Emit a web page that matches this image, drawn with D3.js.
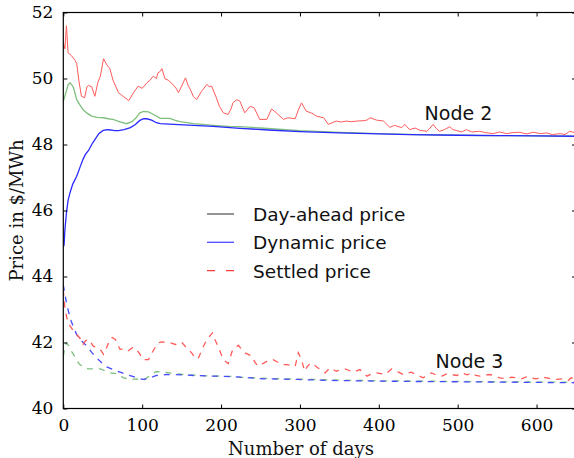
<!DOCTYPE html>
<html>
<head>
<meta charset="utf-8">
<script src="https://cdn.jsdelivr.net/npm/d3@7"></script>
<style>
  body { margin: 0; background: #fff; }
  .tick text { font-family: "DejaVu Serif", serif; }
</style>
</head>
<body>
<div id="chart"></div>
<script>
// values: [day, $/MWh]
const node2DayAhead = [[0,49.3],[3,49.55],[6,49.8],[8.5,49.87],[11,49.8],[13,49.72],[17,49.36],[21,49.2],[25,49.06],[30,48.95],[36,48.86],[43,48.82],[51,48.81],[57,48.78],[63,48.76],[70,48.7],[80,48.63],[87,48.69],[92,48.8],[97,48.96],[102,49.0],[108,48.99],[115,48.9],[123,48.79],[130,48.79],[135,48.79],[142,48.73],[148,48.69],[157,48.66],[165,48.63],[180,48.6],[190,48.58],[210,48.55],[224,48.54],[250,48.5],[300,48.42],[350,48.37],[400,48.33],[450,48.3],[500,48.28],[550,48.27],[600,48.26],[650,48.25]];
const node2Dynamic = [[0,44.9],[1,44.95],[2,45.4],[4,45.93],[6,46.3],[8.5,46.54],[12,46.8],[17,47.04],[21,47.3],[25,47.55],[28,47.7],[32,47.82],[36,48.0],[40,48.15],[45,48.33],[50,48.42],[55,48.45],[60,48.44],[65,48.42],[70,48.42],[77,48.45],[85,48.51],[91,48.6],[97,48.73],[102,48.78],[106,48.78],[112,48.74],[118,48.66],[123,48.63],[140,48.61],[165,48.58],[190,48.55],[224,48.49],[260,48.44],[300,48.39],[350,48.35],[400,48.32],[439,48.3],[500,48.28],[550,48.27],[600,48.26],[650,48.25]];
const node2Settled = [[0,51.1],[2,50.9],[4,51.6],[6,50.78],[10,50.7],[15,50.55],[17,50.45],[20,49.9],[23,49.46],[27,49.42],[30,49.75],[32,49.79],[36,49.75],[40,49.46],[44,49.9],[47,50.07],[51,50.6],[55,50.42],[59,50.3],[63,49.95],[70,49.57],[78,49.42],[83,49.33],[89,49.57],[95,49.77],[100,49.7],[106,49.87],[110,49.95],[114,50.07],[118,50.0],[120,50.17],[123,50.22],[125,50.3],[129,49.99],[133,49.95],[139,49.82],[143,49.7],[146,49.57],[150,49.77],[155,50.02],[158,49.8],[161,49.67],[165,49.45],[169,49.36],[175,49.6],[182,49.82],[185,49.75],[188,49.77],[194,49.42],[198,49.15],[203,48.96],[209,48.91],[213,49.1],[215,49.26],[220,49.36],[224,49.31],[230,48.96],[237,49.16],[242,49.11],[249,48.76],[258,48.76],[264,49.08],[270,48.96],[279,48.76],[285,48.81],[294,48.78],[298,49.05],[302,49.26],[308,49.01],[315,48.95],[321,48.86],[330,48.81],[336,48.61],[346,48.71],[352,48.68],[359,48.71],[365,48.69],[372,48.71],[380,48.72],[385,48.74],[389,48.81],[397,48.74],[406,48.71],[414,48.52],[420,48.58],[429,48.51],[433,48.61],[439,48.45],[446,48.5],[452,48.43],[461,48.4],[465,48.5],[469,48.61],[473,48.48],[477,48.4],[483,48.45],[490,48.54],[494,48.45],[499,48.42],[505,48.38],[511,48.45],[518,48.38],[528,48.4],[535,48.36],[545,48.33],[553,48.38],[562,48.33],[570,48.36],[579,48.37],[587,48.32],[596,48.37],[605,48.33],[613,48.35],[620,48.3],[630,48.33],[636,48.3],[642,48.4],[650,48.35]];

const node3DayAhead = [[0,41.58],[2,41.85],[4,41.99],[7,41.9],[10,41.74],[13,41.64],[17,41.45],[21,41.33],[27,41.22],[34,41.2],[41,41.2],[47,41.2],[53,41.14],[59,41.08],[70,41.05],[76,40.93],[86,40.88],[93,40.9],[97,40.86],[102,40.86],[106,40.93],[112,41.03],[118,41.12],[126,41.1],[135,41.08],[152,41.03],[173,41.0],[194,40.98],[215,40.97],[224,40.95],[260,40.91],[300,40.89],[350,40.86],[400,40.84],[450,40.83],[500,40.82],[550,40.81],[600,40.8],[650,40.8]];
const node3Dynamic = [[0,43.75],[1,43.61],[4,43.2],[7,42.9],[10,42.65],[13,42.45],[17,42.24],[23,42.05],[30,41.89],[36,41.7],[42,41.54],[48,41.4],[55,41.26],[63,41.18],[72,41.1],[80,41.03],[87,40.98],[95,40.92],[101,40.88],[106,40.9],[110,40.93],[118,41.0],[131,41.03],[150,41.02],[165,41.0],[194,40.98],[224,40.95],[254,40.9],[296,40.88],[338,40.85],[400,40.83],[439,40.82],[500,40.81],[550,40.8],[600,40.79],[650,40.78]];
const node3Settled = [[0,43.6],[1,43.3],[2,43.05],[4,42.8],[6,42.6],[9,42.49],[13,42.34],[19,42.19],[22,42.1],[25,41.94],[28,42.05],[32,42.09],[35,42.0],[38,41.89],[44,41.84],[48,41.75],[51,41.64],[55,41.85],[59,42.09],[62,42.15],[66,42.09],[72,41.79],[77,41.8],[82,41.74],[88,41.85],[93,41.79],[97,41.65],[101,41.48],[108,41.48],[114,41.75],[120,41.99],[125,42.02],[131,42.01],[137,41.98],[142,41.94],[150,42.01],[158,41.79],[163,41.68],[167,41.54],[171,41.51],[176,41.8],[182,42.09],[189,42.29],[192,42.1],[196,41.89],[200,41.65],[203,41.48],[209,41.36],[215,41.8],[222,41.91],[226,41.8],[230,41.69],[239,41.59],[243,41.4],[247,41.28],[252,41.35],[258,41.43],[266,41.48],[272,41.4],[277,41.33],[283,41.33],[290,41.3],[294,41.28],[298,41.69],[302,41.48],[306,41.13],[310,41.3],[315,41.38],[323,41.23],[332,41.08],[338,41.23],[346,41.13],[352,41.18],[357,41.2],[368,41.1],[376,41.18],[385,40.98],[391,41.05],[397,41.08],[408,41.03],[416,41.2],[425,41.1],[431,41.03],[441,41.1],[450,41.0],[456,40.93],[467,41.08],[474,41.0],[480,40.98],[486,41.05],[492,41.03],[499,41.0],[505,41.08],[512,41.02],[518,41.08],[523,41.0],[528,40.98],[535,41.02],[541,41.03],[548,40.98],[553,40.93],[562,40.9],[568,40.95],[575,40.93],[581,40.9],[587,40.96],[594,40.92],[600,40.9],[606,40.95],[613,40.93],[619,40.9],[625,40.88],[634,40.9],[640,40.85],[644,40.93],[650,40.9]];

const xTicks = [0, 100, 200, 300, 400, 500, 600];
const yTicks = [40, 42, 44, 46, 48, 50, 52];
const legendLabels = ["Day-ahead price", "Dynamic price", "Settled price"];
const nodeLabels = [{text: "Node 2", day: 458, price: 48.74}, {text: "Node 3", day: 472, price: 41.24}];

const width = 574, height = 458;
const margin = {top: 12.5, right: -2, bottom: 49.5, left: 63.3};
const w = width - margin.left - margin.right;
const h = height - margin.top - margin.bottom;

const svg = d3.select("#chart")
    .append("svg")
    .attr("width", width)
    .attr("height", height);

const g = svg.append("g")
    .attr("transform", "translate(" + margin.left + "," + margin.top + ")");

const x = d3.scaleLinear().domain([0, 650]).range([0, w]);
const y = d3.scaleLinear().domain([40, 52]).range([h, 0]);

g.append("defs").append("clipPath")
    .attr("id", "plot-clip")
    .append("rect")
    .attr("width", w)
    .attr("height", h);

const line = d3.line()
    .x(d => x(d[0]))
    .y(d => y(d[1]));

const series = [
    {data: node2DayAhead, color: "#7fc07f", width: 1.3, dash: null},
    {data: node2Dynamic, color: "#2a2aff", width: 1.3, dash: null},
    {data: node2Settled, color: "#ff5a5a", width: 1, dash: null},
    {data: node3DayAhead, color: "#7fc07f", width: 1.3, dash: "6,6"},
    {data: node3Dynamic, color: "#4a4aff", width: 1.3, dash: "6,6"},
    {data: node3Settled, color: "#ff5a5a", width: 1.3, dash: "6,6"}
];

const plot = g.append("g").attr("clip-path", "url(#plot-clip)");
plot.selectAll("path")
    .data(series)
    .enter()
    .append("path")
    .attr("d", d => line(d.data))
    .attr("fill", "none")
    .attr("stroke", d => d.color)
    .attr("stroke-width", d => d.width)
    .attr("stroke-dasharray", d => d.dash);

// axes, ticks pointing inward on every side
function styleAxis(sel) {
    sel.select(".domain").remove();
    sel.selectAll("line").attr("stroke", "#000");
}

g.append("g")
    .attr("transform", "translate(0," + h + ")")
    .call(d3.axisBottom(x).tickValues(xTicks).tickSize(-4).tickPadding(10).tickFormat(d3.format("d")))
    .call(styleAxis)
    .selectAll("text").attr("font-size", "17px").attr("fill", "#000");

g.append("g")
    .call(d3.axisTop(x).tickValues(xTicks).tickSize(-4).tickFormat(""))
    .call(styleAxis);

g.append("g")
    .call(d3.axisLeft(y).tickValues(yTicks).tickSize(-4).tickPadding(10).tickFormat(d3.format("d")))
    .call(styleAxis)
    .selectAll("text").attr("font-size", "17px").attr("fill", "#000");

g.append("g")
    .attr("transform", "translate(" + w + ",0)")
    .call(d3.axisRight(y).tickValues(yTicks).tickSize(-4).tickFormat(""))
    .call(styleAxis);

g.append("rect")
    .attr("width", w)
    .attr("height", h)
    .attr("fill", "none")
    .attr("stroke", "#000")
    .attr("stroke-width", 1.2);

// axis titles
svg.append("text")
    .attr("x", 301)
    .attr("y", 455)
    .attr("text-anchor", "middle")
    .attr("font-family", "DejaVu Serif, serif")
    .attr("font-size", "18px")
    .attr("fill", "#111")
    .text("Number of days");

svg.append("text")
    .attr("transform", "translate(23," + (margin.top + h / 2) + ") rotate(-90)")
    .attr("text-anchor", "middle")
    .attr("font-family", "DejaVu Serif, serif")
    .attr("font-size", "18px")
    .attr("fill", "#111")
    .text("Price in $/MWh");

// node labels
g.selectAll(".node-label")
    .data(nodeLabels)
    .enter()
    .append("text")
    .attr("class", "node-label")
    .attr("x", d => x(d.day))
    .attr("y", d => y(d.price))
    .attr("font-family", "DejaVu Sans, sans-serif")
    .attr("font-size", "19px")
    .attr("fill", "#111")
    .text(d => d.text);

// legend
const legendStyles = [
    {color: "#5a5a5a", dash: null},
    {color: "#4a4aff", dash: null},
    {color: "#ff3a3a", dash: "8,11"}
];
const legend = svg.append("g").attr("transform", "translate(207,214)");
const rows = legend.selectAll("g")
    .data(legendLabels)
    .enter()
    .append("g")
    .attr("transform", (d, i) => "translate(0," + (i * 28.3) + ")");
rows.append("line")
    .attr("x1", 0).attr("x2", 27)
    .attr("stroke", (d, i) => legendStyles[i].color)
    .attr("stroke-width", 1.3)
    .attr("stroke-dasharray", (d, i) => legendStyles[i].dash);
rows.append("text")
    .attr("x", 46)
    .attr("y", 7)
    .attr("font-family", "DejaVu Sans, sans-serif")
    .attr("font-size", "18.5px")
    .attr("fill", "#111")
    .text(d => d);
</script>
</body>
</html>
